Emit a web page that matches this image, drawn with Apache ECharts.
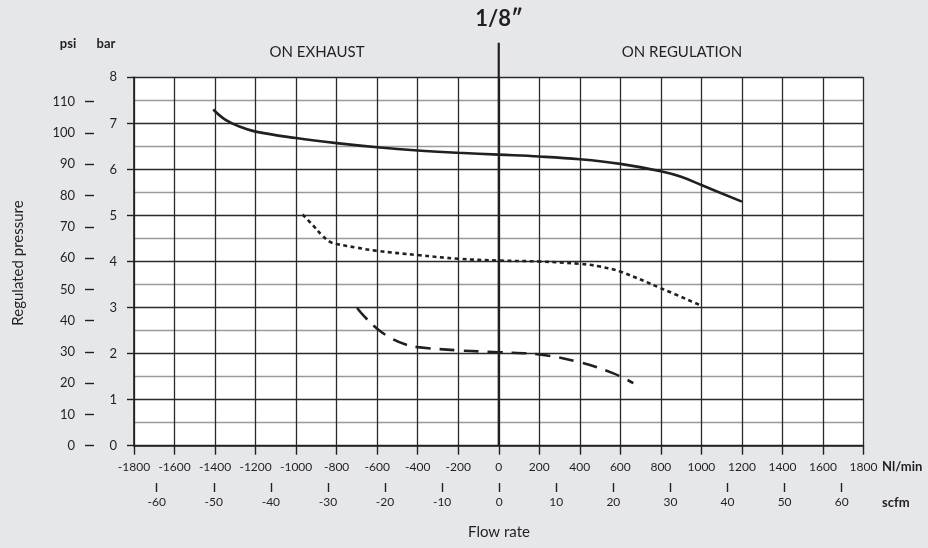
<!DOCTYPE html>
<html>
<head>
<meta charset="utf-8">
<script src="https://cdn.jsdelivr.net/npm/echarts@6/dist/echarts.min.js"></script>
<style>
html,body{margin:0;padding:0;background:#e6e7e9;}
#c{width:928px;height:548px;}
</style>
</head>
<body>
<div id="c"></div>
<script>
// ---- data ----
const flowTicksNl = [-1800,-1600,-1400,-1200,-1000,-800,-600,-400,-200,0,200,400,600,800,1000,1200,1400,1600,1800];
const flowTicksScfm = [-60,-50,-40,-30,-20,-10,0,10,20,30,40,50,60];
const barTicks = [0,1,2,3,4,5,6,7,8];
const psiTicks = [0,10,20,30,40,50,60,70,80,90,100,110];

const solidX = [-1409,-1350,-1280,-1200,-1000,-800,-600,-400,-200,0,200,400,600,800,900,1000,1200];
const solidY = [7.30,7.08,6.93,6.82,6.68,6.57,6.48,6.41,6.36,6.32,6.28,6.22,6.12,5.96,5.84,5.66,5.30];

const dotX = [-968,-920,-870,-830,-800,-700,-600,-400,-200,0,200,400,500,600,800,1000];
const dotY = [5.02,4.80,4.56,4.42,4.38,4.30,4.23,4.14,4.06,4.02,4.00,3.95,3.89,3.78,3.42,3.04];

const dashX = [-699,-666,-600,-529,-455,-400,-200,0,200,400,566,664];
const dashY = [2.99,2.82,2.54,2.33,2.19,2.14,2.07,2.03,1.98,1.81,1.57,1.36];

const dividerX = [0,0];
const dividerY = [0,8.75];

const zip = (xs, ys) => xs.map((x, i) => [x, ys[i]]);
const plain = v => String(v);

const ink = '#231f20';
const font = 'Lato, "Open Sans", sans-serif';

const chart = echarts.init(document.getElementById('c'), null, {renderer:'canvas'});
const G = {top:77.3, bottom:102.3};

chart.setOption({
  backgroundColor:'#e6e7e9',
  animation:false,
  textStyle:{fontFamily:font, color:ink},
  grid:[
    {left:134, right:64.5, top:G.top, bottom:G.bottom, show:true, backgroundColor:'#ffffff', borderWidth:0, containLabel:false},
    {left:156.7, right:86.3, top:G.top, bottom:G.bottom, show:false, containLabel:false},
    {left:134, right:64.5, top:101.7, bottom:G.bottom, show:false, containLabel:false}
  ],
  xAxis:[
    {type:'value', gridIndex:0, min:flowTicksNl[0], max:flowTicksNl[flowTicksNl.length-1], interval:200,
     axisLine:{show:true, onZero:false, lineStyle:{color:ink, width:1.6}},
     axisTick:{show:true, length:9, lineStyle:{color:ink, width:1.4}},
     axisLabel:{margin:15, fontSize:12, color:ink, fontFamily:font, formatter:plain},
     splitLine:{show:true, lineStyle:{color:'#2a2a2a', width:1.3}}},
    {type:'value', gridIndex:1, position:'bottom', offset:37.3, min:flowTicksScfm[0], max:flowTicksScfm[flowTicksScfm.length-1], interval:10,
     axisLine:{show:false, onZero:false},
     axisTick:{show:true, length:9, lineStyle:{color:ink, width:1.4}},
     axisLabel:{margin:13, fontSize:12, color:ink, fontFamily:font, formatter:plain},
     splitLine:{show:false}},
    {type:'value', gridIndex:2, min:-1800, max:1800, show:false}
  ],
  yAxis:[
    {type:'value', gridIndex:0, min:barTicks[0], max:barTicks[barTicks.length-1], interval:1,
     axisLine:{show:true, onZero:false, lineStyle:{color:ink, width:1.6}},
     axisTick:{show:true, length:7, lineStyle:{color:ink, width:1.4}},
     axisLabel:{margin:17, fontSize:13, color:ink, fontFamily:font, formatter:plain},
     splitLine:{show:true, lineStyle:{color:'#2a2a2a', width:1.3}},
     minorTick:{show:false, splitNumber:2},
     minorSplitLine:{show:true, lineStyle:{color:'#9a9a9a', width:1.3}}},
    {type:'value', gridIndex:1, min:0, max:8, show:false},
    {type:'value', gridIndex:2, position:'left', offset:40, min:psiTicks[0], max:psiTicks[psiTicks.length-1], interval:10,
     axisLine:{show:false, onZero:false},
     axisTick:{show:true, length:9, lineStyle:{color:ink, width:1.4}},
     axisLabel:{margin:19, fontSize:13, color:ink, fontFamily:font, formatter:plain},
     splitLine:{show:false}}
  ],
  graphic:[
    {type:'text', style:{text:'1/8″', x:499, y:19, font:'bold 22px '+font, fill:ink, textAlign:'center', textVerticalAlign:'middle'}},
    {type:'text', style:{text:'ON EXHAUST', x:317, y:52, font:'15px '+font, fill:ink, textAlign:'center', textVerticalAlign:'middle'}},
    {type:'text', style:{text:'ON REGULATION', x:682, y:52, font:'15px '+font, fill:ink, textAlign:'center', textVerticalAlign:'middle'}},
    {type:'text', style:{text:'psi', x:68, y:44, font:'bold 13px '+font, fill:ink, textAlign:'center', textVerticalAlign:'middle'}},
    {type:'text', style:{text:'bar', x:106, y:44, font:'bold 13px '+font, fill:ink, textAlign:'center', textVerticalAlign:'middle'}},
    {type:'text', style:{text:'Nl/min', x:882, y:467, font:'bold 13px '+font, fill:ink, textAlign:'left', textVerticalAlign:'middle'}},
    {type:'text', style:{text:'scfm', x:882, y:503, font:'bold 13px '+font, fill:ink, textAlign:'left', textVerticalAlign:'middle'}},
    {type:'text', style:{text:'Flow rate', x:499, y:532, font:'15px '+font, fill:ink, textAlign:'center', textVerticalAlign:'middle'}},
    {type:'text', x:18, y:263, rotation:Math.PI/2, style:{text:'Regulated pressure', x:0, y:0, font:'15px '+font, fill:ink, textAlign:'center', textVerticalAlign:'middle'}}
  ],
  series:[
    {type:'line', xAxisIndex:0, yAxisIndex:0, data:zip(dividerX, dividerY), clip:false, symbol:'none', silent:true,
     lineStyle:{color:ink, width:2.2}, z:3},
    {type:'line', xAxisIndex:0, yAxisIndex:0, data:zip(solidX, solidY), symbol:'none', smooth:0.4,
     lineStyle:{color:ink, width:2.6}, z:4},
    {type:'line', xAxisIndex:0, yAxisIndex:0, data:zip(dotX, dotY), symbol:'none', smooth:0.4,
     lineStyle:{color:ink, width:2.6, type:[4,3.5]}, z:4},
    {type:'line', xAxisIndex:0, yAxisIndex:0, data:zip(dashX, dashY), symbol:'none', smooth:0.4,
     lineStyle:{color:ink, width:2.6, type:[15,9]}, z:4}
  ]
});
</script>
</body>
</html>
